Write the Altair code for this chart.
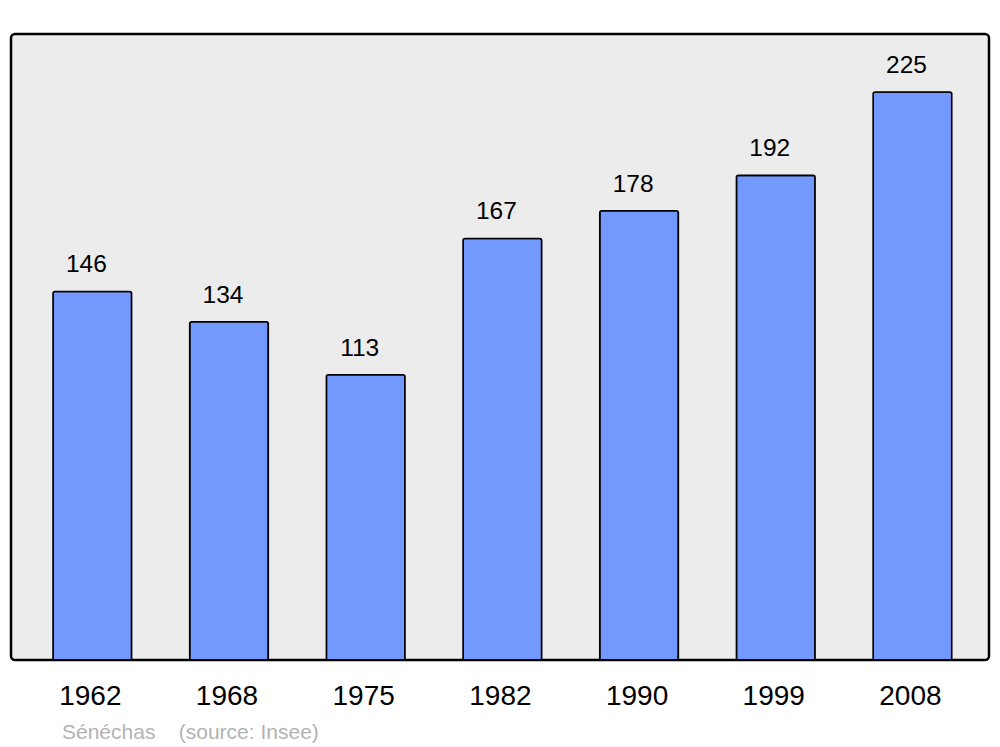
import altair as alt
import pandas as pd

years = ["1962", "1968", "1975", "1982", "1990", "1999", "2008"]
population = [146, 134, 113, 167, 178, 192, 225]

df = pd.DataFrame({"year": years, "pop": population})

FONT = "Liberation Sans"

x = alt.X("year:N", sort=years, title=None,
          scale=alt.Scale(paddingInner=0.425, paddingOuter=0.29, align=0.53),
          axis=alt.Axis(domain=False, ticks=False, labelAngle=0, labelFontSize=28,
                        labelFont=FONT, labelColor="black", labelPadding=22,
                        labelBaseline="top", labelOffset=-2))
y = alt.Y("pop:Q", title=None, scale=alt.Scale(domain=[0, 248], nice=False),
          axis=None)

bars = alt.Chart(df).mark_bar(
    color="#7399ff", stroke="black", strokeWidth=1.6,
    cornerRadiusTopLeft=2, cornerRadiusTopRight=2
).encode(x=x, y=y)

labels = alt.Chart(df).mark_text(
    font=FONT, fontSize=24.5, color="black", baseline="alphabetic", dy=-19, dx=-6
).encode(x=alt.X("year:N", sort=years), y=y, text="pop:Q")

chart = alt.layer(bars, labels).properties(
    width=978, height=626,
    autosize=alt.AutoSizeParams(type="none"),
    padding={"left": 3, "top": 26, "right": 3, "bottom": 85},
    title=alt.TitleParams(
        "Sénéchas\u00a0\u00a0\u00a0\u00a0(source: Insee)",
        orient="bottom", anchor="start", dx=51, offset=12,
        font=FONT, fontSize=21, fontWeight="normal", color="#b3b3b3"
    )
).configure_view(
    fill="#ececec", stroke="black", strokeWidth=2.5, cornerRadius=4
)

chart.save("out.html", embed_options={"renderer": "svg", "actions": False})
